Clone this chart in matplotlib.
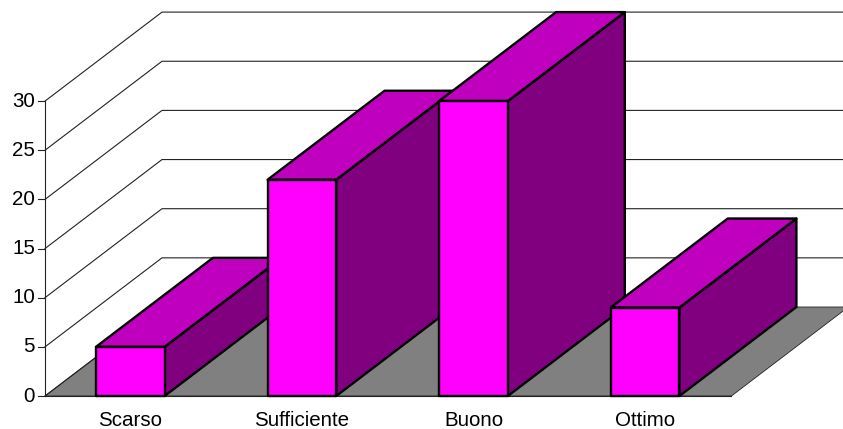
import matplotlib
matplotlib.use("Agg")
import matplotlib.pyplot as plt
from matplotlib.patches import Polygon

categories = ["Scarso", "Sufficiente", "Buono", "Ottimo"]
values = [5, 22, 30, 9]
y_ticks = [0, 5, 10, 15, 20, 25, 30]

W, H = 843, 429
LEFT, BASE = 45, 396          # pixel of the front floor corner
PX_CAT, PX_UNIT = 171.6, 9.83 # pixels per category / per value unit
SHIFT_X, SHIFT_Y = 117 / PX_CAT, 89 / PX_UNIT  # oblique depth in data units
BAR_GAP, BAR_W = 0.297, 0.4

plt.rcParams["font.family"] = ["Liberation Sans", "DejaVu Sans"]
fig = plt.figure(figsize=(W / 100, H / 100), dpi=100, facecolor="white")
ax = fig.add_axes([0, 0, 1, 1])
ax.set_xlim(-LEFT / PX_CAT, (W - LEFT) / PX_CAT)
ax.set_ylim(-(H - BASE) / PX_UNIT, BASE / PX_UNIT)
ax.axis("off")

def back(x, y):
    return x + SHIFT_X, y + SHIFT_Y

LW = 0.8
LINE = "#222222"
n = len(categories)
top = y_ticks[-1]
right_edge = (W - LEFT) / PX_CAT

# floor
ax.add_patch(Polygon([(0, 0), back(0, 0), back(n, 0), (n, 0)], closed=True,
                     facecolor="#808080", edgecolor=LINE, linewidth=0.6, zorder=1))
ax.plot([0, n], [0, 0], color=LINE, lw=LW, zorder=2)

# gridlines on walls
for t in y_ticks:
    bx, by = back(0, t)
    if t > 0:
        ax.plot([0, bx, right_edge], [t, by, by], color=LINE, lw=LW, zorder=2)
    else:
        ax.plot([0, bx], [t, by], color=LINE, lw=LW, zorder=2)
    ax.plot([-7 / PX_CAT, 0], [t, t], color=LINE, lw=LW, zorder=2)
    ax.text(-10 / PX_CAT, t, str(t), ha="right", va="center", fontsize=14.8, color="black")
ax.plot([0, 0], [0, top], color=LINE, lw=LW, zorder=2)

# bars, drawn left to right
for i, (name, v) in enumerate(zip(categories, values)):
    x0, x1 = i + BAR_GAP, i + BAR_GAP + BAR_W
    z = 3 + i
    kw = dict(closed=True, edgecolor="black", linewidth=1.7, joinstyle="round", zorder=z)
    ax.add_patch(Polygon([(x1, 0), back(x1, 0), back(x1, v), (x1, v)], facecolor="#800080", **kw))
    ax.add_patch(Polygon([(x0, v), (x1, v), back(x1, v), back(x0, v)], facecolor="#BF00BF", **kw))
    ax.add_patch(Polygon([(x0, 0), (x1, 0), (x1, v), (x0, v)], facecolor="#FF00FF", **kw))
    ax.text((x0 + x1) / 2, -25 / PX_UNIT, name, ha="center", va="center", fontsize=14.8, color="black")

fig.savefig("out.png", dpi=100, facecolor="white")
